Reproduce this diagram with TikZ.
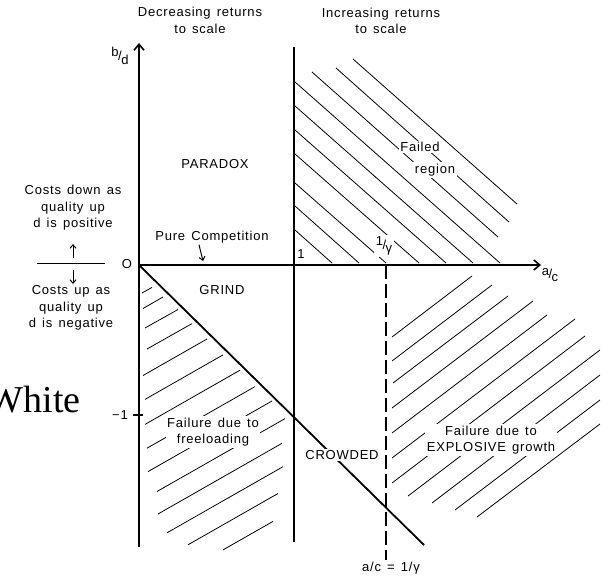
\documentclass[tikz,border=0pt]{standalone}
\usepackage{fontspec}
\setmainfont{Liberation Sans}[LetterSpace=6.0,WordSpace=1.4]
\newfontfamily\whitefont{Liberation Serif}
\usetikzlibrary{arrows.meta}
\begin{document}
\begin{tikzpicture}[x=1pt,y=-1pt,
  lbl/.style={font=\fontsize{13}{16.5}\selectfont, inner sep=1.5pt, align=center},
  wlbl/.style={lbl, fill=white},
  hatch/.style={line width=0.8pt},
  axis/.style={line width=1.3pt},
  tip/.style={-{Straight Barb[length=6pt,width=10pt,line width=1.6pt]}},
  smalltip/.style={-{Straight Barb[length=3.5pt,width=6pt]}, line width=1pt}]
\fill[white] (0,0) rectangle (605,578);
\useasboundingbox (0,0) rectangle (605,578);

% key points
\coordinate (O) at (139,265);
\coordinate (ytop) at (139,43);
\coordinate (ybot) at (139,547);
\coordinate (xend) at (541,265);
\coordinate (vtop) at (294,47);
\coordinate (vbot) at (294,542);
\coordinate (pc) at (273,265);
\coordinate (dend) at (424,545);
\coordinate (gtop) at (386,265);
\coordinate (gbot) at (386,560);

% hatching: failed region
\foreach \a/\b/\c/\d in {295/230/332/263, 295/206/359/263, 295/183/386/263,
  295/154/419/263, 295/130/446/263, 295/106/473/263, 295/82/500/263,
  312/72/498/237, 336/68/509/222, 353/59/517/204}
  \draw[hatch] (\a,\b) -- (\c,\d);

% hatching: failure due to freeloading
\foreach \a/\b/\c/\d in {142/293/152/287.4, 143/308.5/163/297, 145/328/178/309.5,
  147/349/192/323.6, 143/375.5/207/339, 145/399.4/223/354.9, 145/424.4/240/370.2,
  147/448.2/255/386.6, 148/471.6/272/401, 157/491.5/285/418.6, 158/514/282/443.3,
  167/532.8/283/466.7, 188/544.8/278/493.5, 223/549.9/273/521.4}
  \draw[hatch] (\a,\b) -- (\c,\d);

% hatching: failure due to explosive growth
\foreach \a/\b/\c/\d in {392/337/472/276, 392/361/492/285, 393/383/508/296,
  392/408/533/301, 392/433/547/315, 392/458/575/319, 392/483/585/336,
  408/496/600/350, 432/503/600/375, 455/510/600/400, 477/517/600/424}
  \draw[hatch] (\a,\b) -- (\c,\d);

% main lines
\draw[axis, tip] (ybot) -- (ytop);
\draw[axis, tip] (O) -- (xend);
\draw[line width=2.4pt] (O) -- (pc);
\draw[axis] (vtop) -- (vbot);
\draw[line width=1.8pt] (O) -- (dend);
\draw[axis, dash pattern=on 14pt off 5pt] (gtop) -- (gbot);

% tick at -1
\coordinate (t1) at (133,415);
\coordinate (t2) at (143,415);
\draw[axis] (t1) -- (t2);

% labels
\node[lbl] (dec) at (200,20.5) {Decreasing returns\\to scale};
\node[lbl] (inc) at (381,21) {Increasing returns\\to scale};
\node[lbl] (bd) at (120,56) {\raisebox{4pt}{b}\kern-0.5pt/\kern-0.5pt\raisebox{-4pt}{d}};
\node[lbl] (o) at (127,264) {O};
\node[lbl] (m1) at (120,415) {−1};
\node[lbl] (one) at (301,254) {1};
\node[wlbl] (gam) at (384,246) {\raisebox{4pt}{1}\kern-0.5pt/\kern-0.5pt\raisebox{-3pt}{γ}};
\node[lbl] (ac) at (550,275) {\raisebox{3pt}{a}\kern-0.5pt/\kern-0.5pt\raisebox{-3pt}{c}};
\node[lbl] (paradox) at (215,164) {PARADOX};
\node[lbl] (grind) at (222,290) {GRIND};
\node[wlbl] (crowded) at (342,455) {CROWDED};
\node[wlbl] (failed) at (420,147) {Failed};
\node[wlbl] (region) at (435,170) {region};
\node[wlbl] (free) at (213,432) {Failure due to\\freeloading};
\node[wlbl] (expl) at (491,440) {Failure due to\\EXPLOSIVE growth};
\node[lbl] (pure) at (212,237) {Pure Competition};
\node[lbl] (acg) at (391,568) {a/c = 1/γ};
\node[lbl] (upt) at (73,208) {Costs down as\\quality up\\d is positive};
\node[lbl] (dnt) at (71,308) {Costs up as\\quality up\\d is negative};
\node[font=\whitefont\fontsize{38}{40}\selectfont, anchor=base east, inner sep=0pt] (white) at (81,412) {White};

% pure competition pointer
\coordinate (pcp) at (203,261);
\draw[smalltip] (pure.south -| 199,0) -- (pcp);

% left arrows and divider
\coordinate (ua1) at (73,258);
\coordinate (ua2) at (73,244);
\coordinate (da1) at (73,270);
\coordinate (da2) at (73,284);
\coordinate (hl1) at (37,263);
\coordinate (hl2) at (105,263);
\draw[smalltip] (ua1) -- (ua2);
\draw[smalltip] (da1) -- (da2);
\draw[line width=1pt] (hl1) -- (hl2);
\end{tikzpicture}
\end{document}
